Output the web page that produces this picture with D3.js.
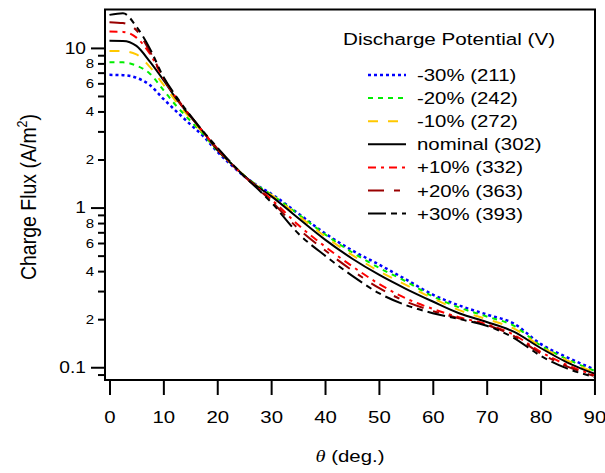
<!DOCTYPE html>
<html>
<head>
<meta charset="utf-8">
<script src="https://cdn.jsdelivr.net/npm/d3@7"></script>
<style>
body { margin: 0; background: #fff; }
svg text { font-family: "Liberation Sans", Arial, sans-serif; fill: #000; }
</style>
</head>
<body>
<div id="chart"></div>
<script>

// Data
var theta = [0, 2.5, 5, 7.5, 10, 12.5, 15, 17.5, 20, 22.5, 25, 27.5, 30, 35, 40, 45, 50, 55, 60, 65, 70, 75, 80, 85, 90];

var fluxM30 = [6.78, 6.75, 6.5, 5.85, 4.8, 3.98, 3.32, 2.78, 2.24, 1.86, 1.57, 1.37, 1.22, 0.92, 0.69, 0.54, 0.44, 0.355, 0.285, 0.243, 0.214, 0.188, 0.14, 0.115, 0.097];
var fluxM20 = [8.14, 8.12, 7.75, 6.9, 5.45, 4.3, 3.5, 2.85, 2.28, 1.9, 1.59, 1.37, 1.21, 0.91, 0.68, 0.525, 0.42, 0.345, 0.278, 0.236, 0.208, 0.182, 0.137, 0.112, 0.095];
var fluxM10 = [9.58, 9.55, 9.1, 7.6, 5.9, 4.55, 3.62, 2.9, 2.3, 1.9, 1.59, 1.36, 1.2, 0.89, 0.66, 0.505, 0.4, 0.328, 0.27, 0.227, 0.2, 0.175, 0.135, 0.11, 0.093];
var fluxNom = [11.07, 11.05, 10.3, 8.2, 6.3, 4.75, 3.72, 2.95, 2.3, 1.9, 1.58, 1.35, 1.18, 0.86, 0.63, 0.48, 0.38, 0.31, 0.258, 0.217, 0.192, 0.167, 0.132, 0.107, 0.091];
var fluxP10 = [12.65, 12.6, 11.6, 9.2, 6.45, 4.8, 3.75, 2.95, 2.33, 1.9, 1.57, 1.33, 1.13, 0.78, 0.57, 0.43, 0.333, 0.27, 0.232, 0.205, 0.186, 0.16, 0.125, 0.103, 0.089];
var fluxP20 = [14.5, 14.3, 12.9, 9.5, 6.5, 4.85, 3.75, 2.95, 2.35, 1.9, 1.57, 1.32, 1.1, 0.74, 0.54, 0.405, 0.314, 0.258, 0.225, 0.202, 0.184, 0.157, 0.122, 0.101, 0.088];
var fluxP30 = [16.1, 16.5, 13.6, 9.9, 6.6, 4.9, 3.78, 2.97, 2.38, 1.92, 1.57, 1.31, 1.08, 0.69, 0.5, 0.375, 0.291, 0.245, 0.218, 0.2, 0.182, 0.153, 0.118, 0.098, 0.087];

var seriesLabels = ["-30% (211)", "-20% (242)", "-10% (272)", "nominal (302)", "+10% (332)", "+20% (363)", "+30% (393)"];

var xTicks = [0, 10, 20, 30, 40, 50, 60, 70, 80, 90];
var yMajorTicks = [0.1, 1, 10];
var yMinorTicks = [0.09, 0.2, 0.3, 0.4, 0.5, 0.6, 0.7, 0.8, 0.9, 2, 3, 4, 5, 6, 7, 8, 9];
var yMinorLabeled = [0.2, 0.4, 0.6, 0.8, 2, 4, 6, 8];

// styles, one per series
var seriesStyle = [
    { color: "#0000ff", dash: "3,3", width: 2.5 },
    { color: "#00ee00", dash: "5,5", width: 2 },
    { color: "#ffc800", dash: "10,10", width: 2 },
    { color: "#000000", dash: null, width: 2 },
    { color: "#ff0000", dash: "8,5,3,5", width: 2 },
    { color: "#990000", dash: "16,10,6,10", width: 2 },
    { color: "#000000", dash: "18,5,6,5,6,5", width: 2 }
];

var seriesValues = [fluxM30, fluxM20, fluxM10, fluxNom, fluxP10, fluxP20, fluxP30];

// text in the picture is stretched sideways a bit
var SX = 1.2;

function stretch(sel) {
    sel.each(function() {
        var t = d3.select(this);
        var x = +t.attr("x") || 0;
        t.attr("transform", "translate(" + x + ",0) scale(" + SX + ",1) translate(" + (-x) + ",0)");
    });
}

var W = 605, H = 473;
var plot = { left: 105, right: 595, top: 9.5, bottom: 380 };

var svg = d3.select("#chart").append("svg")
    .attr("width", W)
    .attr("height", H);

var x = d3.scaleLinear()
    .domain([-0.83, 90.1])
    .range([plot.left, plot.right]);

var y = d3.scaleLog()
    .domain([0.0832, 17.4])
    .range([plot.bottom, plot.top]);

svg.append("defs").append("clipPath")
    .attr("id", "clip")
    .append("rect")
    .attr("x", plot.left)
    .attr("y", plot.top)
    .attr("width", plot.right - plot.left)
    .attr("height", plot.bottom - plot.top);

// curves
var line = d3.line()
    .curve(d3.curveMonotoneX)
    .x(function(d) { return x(d[0]); })
    .y(function(d) { return y(d[1]); });

var curves = svg.append("g").attr("clip-path", "url(#clip)");

seriesValues.forEach(function(vals, i) {
    var pts = theta.map(function(t, j) { return [t, vals[j]]; });
    var st = seriesStyle[i];
    curves.append("path")
        .datum(pts)
        .attr("fill", "none")
        .attr("stroke", st.color)
        .attr("stroke-width", st.width)
        .attr("stroke-dasharray", st.dash)
        .attr("d", line);
});

// frame
svg.append("rect")
    .attr("x", plot.left)
    .attr("y", plot.top)
    .attr("width", plot.right - plot.left)
    .attr("height", plot.bottom - plot.top)
    .attr("fill", "none")
    .attr("stroke", "#000")
    .attr("stroke-width", 2);

// x axis
var xAxis = svg.append("g")
    .attr("transform", "translate(0," + plot.bottom + ")")
    .call(d3.axisBottom(x).tickValues(xTicks).tickSize(15).tickPadding(16).tickFormat(d3.format("d")));
xAxis.select(".domain").remove();
xAxis.selectAll("line").attr("stroke-width", 2);
xAxis.selectAll("text").style("font-size", "17px").call(stretch);

// y axis, major
var yMajor = svg.append("g")
    .attr("transform", "translate(" + plot.left + ",0)")
    .call(d3.axisLeft(y).tickValues(yMajorTicks).tickSize(14).tickPadding(5)
        .tickFormat(function(d) { return d < 1 ? "0.1" : String(d); }));
yMajor.select(".domain").remove();
yMajor.selectAll("line").attr("stroke-width", 2);
yMajor.selectAll("text").style("font-size", "16px").call(stretch);

// y axis, minor
var yMinor = svg.append("g")
    .attr("transform", "translate(" + plot.left + ",0)")
    .call(d3.axisLeft(y).tickValues(yMinorTicks).tickSize(7).tickPadding(4)
        .tickFormat(function(d) {
            if (yMinorLabeled.indexOf(d) < 0) return "";
            var p = Math.pow(10, Math.floor(Math.log10(d) + 1e-9));
            return String(Math.round(d / p));
        }));
yMinor.select(".domain").remove();
yMinor.selectAll("line").attr("stroke-width", 2);
yMinor.selectAll("text").style("font-size", "12.5px").call(stretch);

// axis titles
var xt = svg.append("text")
    .attr("x", (plot.left + plot.right) / 2)
    .attr("y", 462)
    .attr("text-anchor", "middle")
    .style("font-size", "17px");
xt.append("tspan").style("font-family", "'Liberation Serif', serif").style("font-style", "italic").text("\u03b8");
xt.append("tspan").text(" (deg.)");
stretch(xt);

var yt = svg.append("text")
    .attr("transform", "translate(36,197) scale(1.1,1) rotate(-90)")
    .attr("text-anchor", "middle")
    .style("font-size", "19.5px");
yt.append("tspan").text("Charge Flux (A/m");
yt.append("tspan").attr("dy", -8).style("font-size", "12.5px").text("2");
yt.append("tspan").attr("dy", 8).text(")");

// legend
var legend = svg.append("g");
legend.append("text")
    .attr("x", 343)
    .attr("y", 45)
    .style("font-size", "17.2px")
    .text("Discharge Potential (V)")
    .call(stretch);

var rows = legend.selectAll(".row")
    .data(seriesLabels)
    .enter().append("g")
    .attr("class", "row")
    .attr("transform", function(d, i) { return "translate(0," + (75 + i * 23.1) + ")"; });

rows.append("line")
    .attr("x1", 368).attr("x2", 406)
    .attr("y1", 0).attr("y2", 0)
    .attr("stroke", function(d, i) { return seriesStyle[i].color; })
    .attr("stroke-width", function(d, i) { return seriesStyle[i].width; })
    .attr("stroke-dasharray", function(d, i) { return seriesStyle[i].dash; });

rows.append("text")
    .attr("x", 417)
    .attr("y", 6)
    .style("font-size", "17px")
    .text(function(d) { return d; })
    .call(stretch);

</script>
</body>
</html>
